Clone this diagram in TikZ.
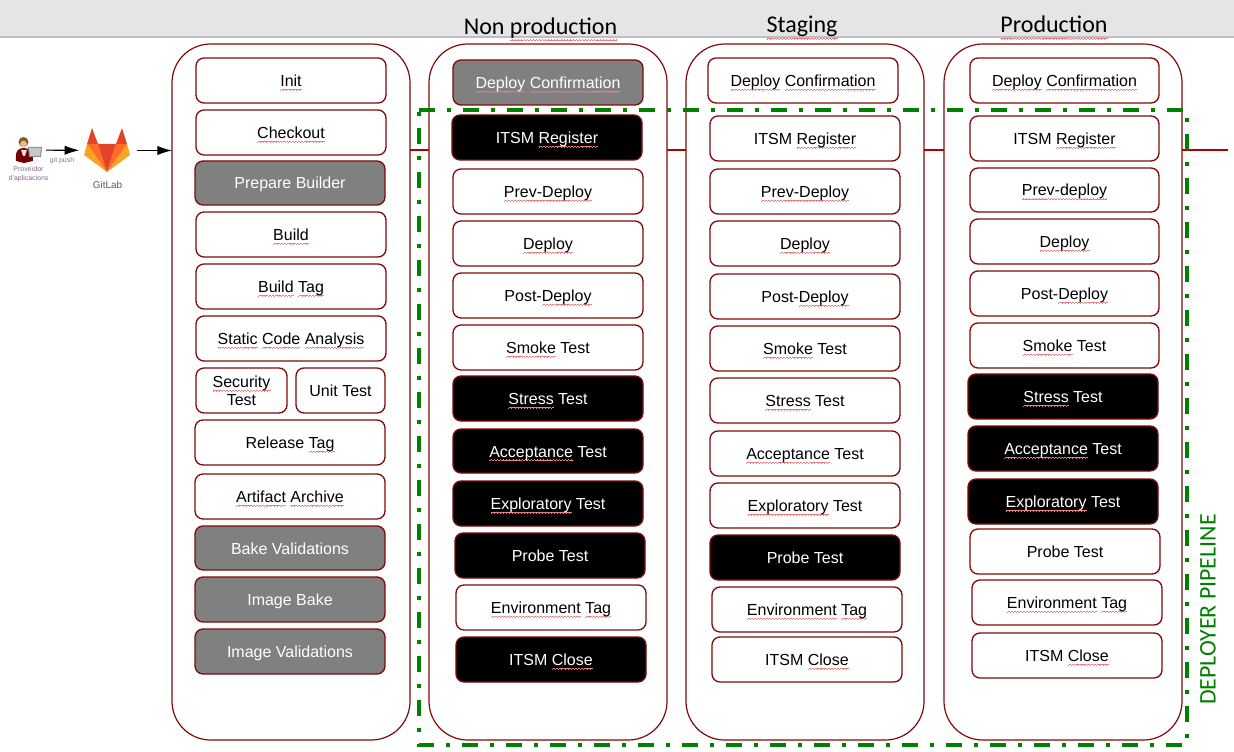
\documentclass[tikz,border=0pt]{standalone}
\usepackage{fontspec}
\setmainfont{Liberation Sans}
\newfontfamily\headfont{Carlito}
\usetikzlibrary{arrows.meta}
\definecolor{boxred}{HTML}{7F0A0A}
\definecolor{linkred}{HTML}{B00000}
\definecolor{pipegreen}{HTML}{008000}
\definecolor{squig}{HTML}{F27C7E}
\definecolor{greyfill}{HTML}{808080}
\newsavebox{\wavebox}
\sbox{\wavebox}{\textcolor{squig}{\rule[0pt]{.56pt}{.38pt}\rule[.4pt]{.56pt}{.38pt}\rule[.8pt]{.56pt}{.38pt}\rule[.4pt]{.56pt}{.38pt}}}
\newcommand{\sq}[1]{{\setbox0\hbox{#1}\leavevmode\rlap{\smash{\raisebox{-3pt}{\hbox to \wd0{\xleaders\copy\wavebox\hfill}}}}\box0}}
\newcommand{\hq}[1]{{\setbox0\hbox{#1}\leavevmode\rlap{\smash{\raisebox{-4.6pt}{\hbox to \wd0{\xleaders\copy\wavebox\hfill}}}}\box0}}
\tikzset{
  x=0.75pt,y=-0.75pt,
  panel/.style={draw=boxred,line width=0.9pt,rounded corners=29pt,inner sep=0pt,outer sep=0pt,fill=white},
  stage/.style={draw=boxred,line width=1pt,rounded corners=6pt,inner sep=0pt,outer sep=0pt,font=\fontsize{12}{13.5}\selectfont,align=center,text height=10.1pt,text depth=1.1pt},
  plainbox/.style={stage,fill=white,text=black},
  greybox/.style={stage,fill=greyfill,text=white},
  blackbox/.style={stage,fill=black,text=white},
  twoline/.style={stage,fill=white,text=black,text height=,text depth=},
  link/.style={draw=linkred,line width=1.9pt},
  push/.style={draw=black,line width=0.9pt,-{Latex[length=11pt,width=7pt]}},
  pipeframe/.style={draw=pipegreen,line width=2.8pt,dash pattern=on 12pt off 9pt on 3pt off 9pt},
  heading/.style={font=\headfont\fontsize{18}{20}\selectfont,text=black,inner sep=0pt},
  tiny/.style={font=\fontsize{5.2}{6.6}\selectfont,text=black!55!violet!60,align=center,inner sep=0pt},
  holder/.style={inner sep=0pt,outer sep=0pt,minimum height=24pt}
}
\newcommand{\bx}[7]{\node[#6,minimum width={(#4-#2)*0.75pt},minimum height={(#5-#3)*0.75pt}] (#1) at ({(#2+#4)/2},{(#3+#5)/2}) {#7};}
\newcommand{\pn}[3]{\node[panel,minimum width={(#3-#2)*0.75pt},minimum height={696*0.75pt}] (#1) at ({(#2+#3)/2},392) {};}
\begin{document}
\begin{tikzpicture}
\useasboundingbox (0,0) rectangle (1234,752);
\fill[white] (0,0) rectangle (1234,752);
% top band
\fill[black!10] (0,0) rectangle (1234,37);
\draw[black!25,line width=0.8pt] (0,37) -- (1234,37);
\node[heading,anchor=base] (h1) at (540.5,34.5) {Non \hq{production}};
\node[heading,anchor=base] (h2) at (802,33) {\hq{Staging}};
\node[heading,anchor=base] (h3) at (1054,33) {\hq{Production}};
% panels
\pn{p0}{172}{410}
\pn{p1}{429}{667}
\pn{p2}{686}{924}
\pn{p3}{944}{1182}
\coordinate (tail) at (1228,150);
\coordinate (rowa) at (0,150);
\draw[link] (p0.east |- rowa) -- (p1.west |- rowa);
\draw[link] (p1.east |- rowa) -- (p2.west |- rowa);
\draw[link] (p2.east |- rowa) -- (p3.west |- rowa);
\draw[link] (p3.east |- rowa) -- (tail);
% build column
\bx{a1}{196}{58}{386}{103}{plainbox}{\sq{Init}}
\bx{a2}{196}{110}{386}{155}{plainbox}{\sq{Checkout}}
\bx{a3}{195}{161}{385}{205}{greybox}{Prepare Builder}
\bx{a4}{196}{212}{386}{257}{plainbox}{\sq{Build}}
\bx{a5}{196}{264}{386}{309}{plainbox}{\sq{Build} \sq{Tag}}
\bx{a6}{196}{316}{386}{361}{plainbox}{\sq{Static} \sq{Code} \sq{Analysis}}
\bx{a7}{196}{368}{287}{413}{twoline}{\sq{Security}\\Test}
\bx{a8}{296}{368}{385}{413}{plainbox}{Unit Test}
\bx{a9}{195}{420}{385}{465}{plainbox}{Release \sq{Tag}}
\bx{a10}{195}{474}{385}{519}{plainbox}{\sq{Artifact} \sq{Archive}}
\bx{a11}{195}{526}{385}{570}{greybox}{Bake Validations}
\bx{a12}{195}{577}{385}{622}{greybox}{Image Bake}
\bx{a13}{195}{629}{385}{674}{greybox}{Image Validations}
% non production
\bx{b1}{453}{60}{643}{105}{greybox}{\sq{Deploy} \sq{Confirmation}}
\bx{b2}{452}{115}{642}{160}{blackbox}{ITSM \sq{Register}}
\bx{b3}{453}{169}{643}{214}{plainbox}{\sq{Prev-Deploy}}
\bx{b4}{453}{221}{643}{266}{plainbox}{\sq{Deploy}}
\bx{b5}{453}{273}{643}{318}{plainbox}{Post-\sq{Deploy}}
\bx{b6}{453}{325}{643}{370}{plainbox}{\sq{Smoke} Test}
\bx{b7}{453}{376}{643}{421}{blackbox}{\sq{Stress} Test}
\bx{b8}{453}{429}{643}{473}{blackbox}{\sq{Acceptance} Test}
\bx{b9}{453}{481}{643}{526}{blackbox}{\sq{Exploratory} Test}
\bx{b10}{455}{533}{645}{578}{blackbox}{Probe Test}
\bx{b11}{456}{585}{646}{630}{plainbox}{\sq{Environment} \sq{Tag}}
\bx{b12}{456}{637}{646}{682}{blackbox}{ITSM \sq{Close}}
% staging
\bx{c1}{708}{58}{898}{103}{plainbox}{\sq{Deploy} \sq{Confirmation}}
\bx{c2}{710}{116}{900}{161}{plainbox}{ITSM \sq{Register}}
\bx{c3}{710}{169}{900}{214}{plainbox}{\sq{Prev-Deploy}}
\bx{c4}{710}{221}{900}{266}{plainbox}{\sq{Deploy}}
\bx{c5}{710}{274}{900}{319}{plainbox}{Post-\sq{Deploy}}
\bx{c6}{710}{326}{900}{371}{plainbox}{\sq{Smoke} Test}
\bx{c7}{710}{378}{900}{423}{plainbox}{\sq{Stress} Test}
\bx{c8}{710}{431}{900}{476}{plainbox}{\sq{Acceptance} Test}
\bx{c9}{710}{483}{900}{528}{plainbox}{\sq{Exploratory} Test}
\bx{c10}{710}{535}{900}{580}{blackbox}{Probe Test}
\bx{c11}{712}{587}{902}{632}{plainbox}{\sq{Environment} \sq{Tag}}
\bx{c12}{712}{637}{902}{682}{plainbox}{ITSM \sq{Close}}
% production
\bx{d1}{970}{58}{1159}{103}{plainbox}{\sq{Deploy} \sq{Confirmation}}
\bx{d2}{970}{116}{1159}{161}{plainbox}{ITSM \sq{Register}}
\bx{d3}{970}{168}{1159}{212}{plainbox}{\sq{Prev-deploy}}
\bx{d4}{970}{219}{1159}{264}{plainbox}{\sq{Deploy}}
\bx{d5}{970}{271}{1159}{316}{plainbox}{Post-\sq{Deploy}}
\bx{d6}{970}{323}{1159}{368}{plainbox}{\sq{Smoke} Test}
\bx{d7}{968}{374}{1158}{419}{blackbox}{\sq{Stress} Test}
\bx{d8}{968}{426}{1158}{471}{blackbox}{\sq{Acceptance} Test}
\bx{d9}{968}{479}{1158}{524}{blackbox}{\sq{Exploratory} Test}
\bx{d10}{970}{529}{1160}{574}{plainbox}{Probe Test}
\bx{d11}{972}{580}{1162}{625}{plainbox}{\sq{Environment} \sq{Tag}}
\bx{d12}{972}{633}{1162}{678}{plainbox}{ITSM \sq{Close}}
% pipeline frame
\draw[pipeframe] (419,110) -- (1187,110) -- (1187,745) -- (419,745) -- cycle;
\node[font=\headfont\fontsize{17.9}{19}\selectfont,text=pipegreen,rotate=90,inner sep=0pt] (pipelabel) at (1208,609.5) {DEPLOYER PIPELINE};
% source side
\node[holder,minimum width=25pt] (dev) at (29.5,150) {};
\node[holder,minimum width=43pt] (gl) at (108,150.5) {};
\draw[push] (dev) -- (gl);
\draw[push] (gl.east) -- (gl.east -| p0.west);
% person
\fill[red!45!black] (16,161) .. controls (15,151) and (18,148) .. (24,148) .. controls (30,148) and (33,152) .. (33,161) -- (24,163) -- cycle;
\fill[black!12] (21,150) -- (27,150) -- (25,156) -- (23,156) -- cycle;
\fill[brown!70!black] (23.5,142) circle (5);
\fill[orange!40!brown!55!white] (23.5,144) circle (3.4);
\fill[black!45] (28,147) -- (42,147) -- (41,157) -- (29,157) -- cycle;
\fill[black!22] (29,148) -- (41,148) -- (40,156) -- (30,156) -- cycle;
% gitlab logo
\definecolor{glred}{HTML}{E24329}\definecolor{glor}{HTML}{FC6D26}\definecolor{glyl}{HTML}{FCA326}
\fill[glyl] (87,144) -- (84,155) -- (107,172) -- cycle;
\fill[glyl] (127,144) -- (130,155) -- (107,172) -- cycle;
\fill[glor] (87,144) -- (98,144) -- (107,172) -- cycle;
\fill[glor] (127,144) -- (116,144) -- (107,172) -- cycle;
\fill[glred] (98,144) -- (116,144) -- (107,172) -- cycle;
\fill[glred] (87,144) -- (92,128) -- (98,144) -- cycle;
\fill[glred] (127,144) -- (122,128) -- (116,144) -- cycle;
\node[font=\fontsize{7.4}{8}\selectfont,text=black!65,inner sep=0pt] (gltext) at (107.5,185) {GitLab};
\node[tiny] (devtext) at (28.5,174.5) {Proveïdor\\d'aplicacions};
\node[font=\fontsize{5.2}{6}\selectfont,text=black!50,inner sep=0pt] (pushtext) at (62,161) {git push};
\end{tikzpicture}
\end{document}
